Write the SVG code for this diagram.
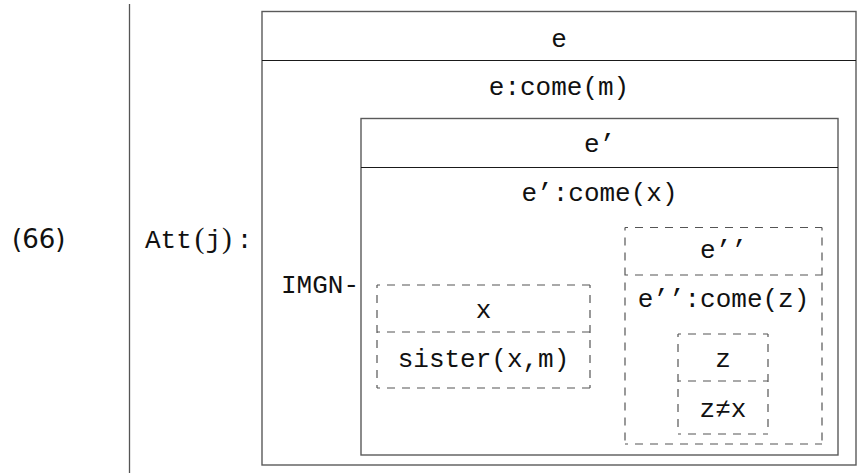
<svg xmlns="http://www.w3.org/2000/svg" width="862" height="473" viewBox="0 0 862 473">
  <style>
    .tt { font-family: "Liberation Mono", "DejaVu Sans Mono", monospace; font-size: 26px; fill: #111; }
    .rm { font-family: "Liberation Serif", serif; font-size: 29px; fill: #111; }
    .num { font-family: "DejaVu Sans", "Noto Sans", sans-serif; font-size: 26px; fill: #111; }
    .c { text-anchor: middle; }
    .frame { fill: none; stroke: #5a5a5a; stroke-width: 1.4; }
    .sep { fill: none; stroke: #1a1a1a; stroke-width: 1.2; }
    .dash { fill: none; stroke: #555; stroke-width: 1.2; stroke-dasharray: 8 7; stroke-dashoffset: 5; }
  </style>

  <!-- example number -->
  <g id="label-66">
    <text class="num" x="12" y="248">(66)</text>
  </g>

  <!-- left rule -->
  <g id="connectors">
    <line x1="129.5" y1="4" x2="129.5" y2="473" stroke="#555" stroke-width="1.3"/>
  </g>

  <!-- attitude label: typewriter letters, roman parentheses -->
  <g id="att-label">
    <text class="tt" x="145" y="248">Att<tspan class="rm" dx="3">(</tspan><tspan dx="1">j</tspan><tspan class="rm" dx="1">)</tspan><tspan dx="5">:</tspan></text>
  </g>

  <!-- outer DRS: e -->
  <g id="drs-e">
    <rect class="frame" x="262" y="11.5" width="594" height="453.5"/>
    <line class="sep" x1="262" y1="60.5" x2="856" y2="60.5"/>
    <text class="tt c" x="559" y="47">e</text>
    <text class="tt c" x="559" y="95">e:come(m)</text>
    <text class="tt" x="281" y="293">IMGN-</text>
  </g>

  <!-- embedded DRS: e’ -->
  <g id="drs-e1">
    <rect class="frame" x="361" y="118.5" width="477" height="336.5"/>
    <line class="sep" x1="361" y1="167.5" x2="838" y2="167.5"/>
    <text class="tt c" x="599.5" y="152">e’</text>
    <text class="tt c" x="599.5" y="201">e’:come(x)</text>
  </g>

  <!-- dashed DRS: x -->
  <g id="drs-x">
    <path class="dash" d="M377 285 H590 M377 285 V388 M590 285 V388 M377 388 H590 M377 332 H590"/>
    <text class="tt c" x="483.5" y="318">x</text>
    <text class="tt c" x="483.5" y="367">sister(x,m)</text>
  </g>

  <!-- dashed DRS: e’’ -->
  <g id="drs-e2">
    <path class="dash" d="M625 227.5 H822 M625 227.5 V444 M822 227.5 V444 M625 444 H822 M625 275 H822"/>
    <text class="tt c" x="723.5" y="258">e’’</text>
    <text class="tt c" x="723.5" y="307">e’’:come(z)</text>
  </g>

  <!-- dashed DRS: z -->
  <g id="drs-z">
    <path class="dash" d="M678 334 H768 M678 334 V434 M768 334 V434 M678 434 H768 M678 381 H768"/>
    <text class="tt c" x="723" y="367">z</text>
    <text class="tt c" x="723" y="417">z≠x</text>
  </g>
</svg>
